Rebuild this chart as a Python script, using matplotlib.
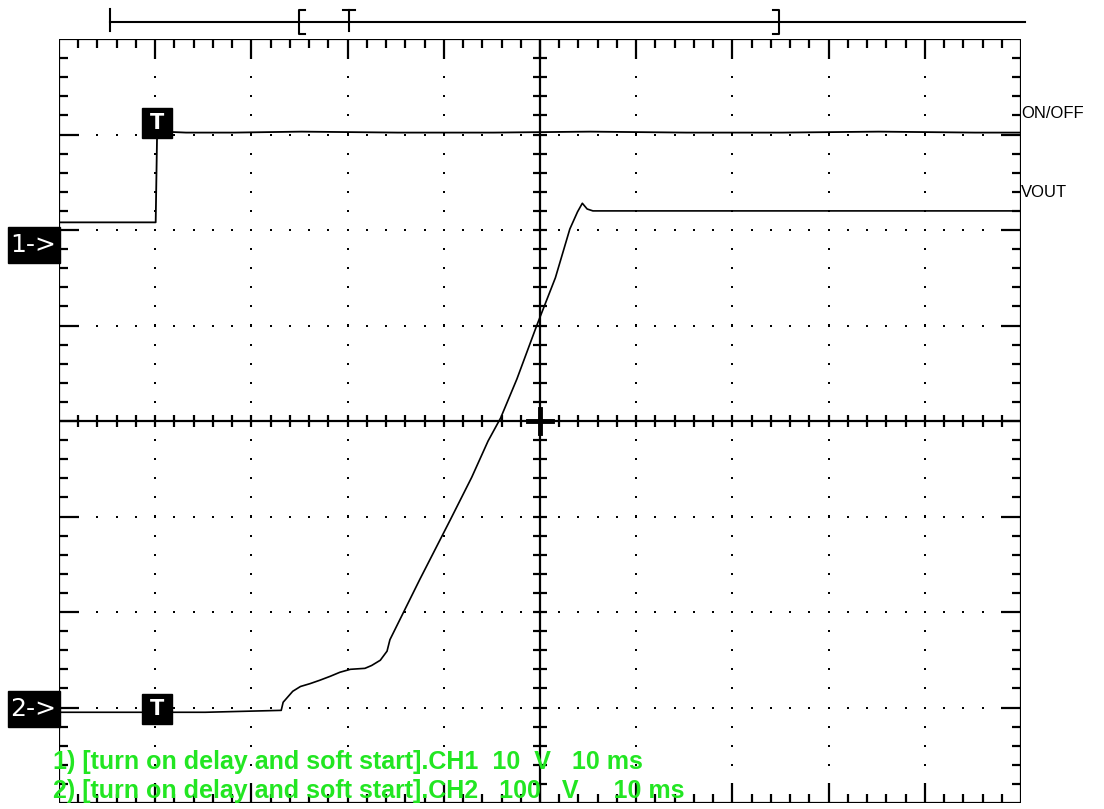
import numpy as np
import matplotlib.pyplot as plt
from matplotlib.patches import Rectangle
from matplotlib.collections import LineCollection

# scope settings: 10 ms/div, CH1 10 V/div, CH2 100 V/div, t = 0 at trigger
t_left = -10.2
ms_per_div = 10.0
ch1_scale = 10.0
ch2_scale = 100.0
ch1_offset = 2.0     # divisions above centre
ch2_offset = -3.05

# CH1: ON/OFF signal (V)
ch1_t = [-10.2, -8.5, -5.0, -2.0, -0.15, 0.0, 0.6, 3.0, 8.0, 15.0, 25.0, 35.0,
         45.0, 55.0, 65.0, 75.0, 85.0, 89.8]
ch1_v = [0.8, 0.8, 0.8, 0.8, 0.8, 10.3, 10.3, 10.2, 10.2, 10.3, 10.2, 10.2,
         10.3, 10.2, 10.2, 10.3, 10.2, 10.2]

# CH2: VOUT (V)
ch2_t = [-10.2, -2.0, 5.0, 12.9, 13.1, 14.1, 14.9, 15.9, 16.9, 18.0, 19.0, 20.1,
         21.6, 22.3, 23.2, 23.9, 24.2, 27.3, 30.5, 32.7, 34.4, 35.7, 37.4, 39.5,
         41.4, 42.9, 43.7, 44.2, 44.7, 45.3, 50.0, 60.0, 70.0, 80.0, 89.8]
ch2_v = [0, 0, 0, 2, 10.5, 22, 27, 30, 33.5, 37.7, 41.9, 45,
         46, 49, 54.5, 64, 76, 139, 202, 246, 284, 308, 349, 406,
         455, 506, 524, 533, 527, 525, 525, 525, 525, 525, 525]

ch_text = ["1) [turn on delay and soft start].CH1  10  V   10 ms",
           "2) [turn on delay and soft start].CH2   100   V     10 ms"]
trace_names = ["ON/OFF", "VOUT"]

W, H = 1104, 809
fig = plt.figure(figsize=(W / 100, H / 100), dpi=100)
ax = fig.add_axes([59 / W, 6 / H, 962 / W, 764 / H])
ax.set_xlim(t_left, t_left + 10 * ms_per_div)
ax.set_ylim(-4, 4)
ax.axis('off')

px_x = 10 * ms_per_div / 962
px_y = 8 / 764

# graticule dots
xs_major = [t_left + k * ms_per_div for k in range(1, 10) if k != 5]
ys_minor = np.arange(-3.8, 3.81, 0.2)
for x in xs_major:
    ax.plot([x] * len(ys_minor), ys_minor, ls='none', marker='s', ms=1.7, color='black', mew=0)
xs_minor = t_left + np.arange(0.2, 9.81, 0.2) * ms_per_div
for y in [-3, -2, -1, 1, 2, 3]:
    ax.plot(xs_minor, [y] * len(xs_minor), ls='none', marker='s', ms=1.7, color='black', mew=0)

# border and centre lines with ticks
segs = []
x0, x1 = t_left, t_left + 10 * ms_per_div
segs += [[(x0, -4), (x1, -4)], [(x1, -4), (x1, 4)], [(x1, 4), (x0, 4)], [(x0, 4), (x0, -4)]]
segs += [[(x0, 0), (x1, 0)], [(t_left + 50, -4), (t_left + 50, 4)]]
for i in range(1, 50):
    x = t_left + i * ms_per_div / 5
    ln = 20 if i % 5 == 0 else 9
    segs.append([(x, 4), (x, 4 - ln * px_y)])
    segs.append([(x, -4), (x, -4 + ln * px_y)])
    segs.append([(x, -6 * px_y), (x, 6 * px_y)])
for i in range(1, 40):
    y = -4 + i * 0.2
    ln = 20 if i % 5 == 0 else 9
    segs.append([(x0, y), (x0 + ln * px_x, y)])
    segs.append([(x1, y), (x1 - ln * px_x, y)])
    segs.append([(t_left + 50 - 7 * px_x, y), (t_left + 50 + 7 * px_x, y)])
ax.add_collection(LineCollection(segs, colors='black', linewidths=1.6))
ax.plot([t_left + 50 - 12 * px_x, t_left + 50 + 12 * px_x], [0, 0], color='black', lw=3.5)
ax.plot([t_left + 50, t_left + 50], [-12 * px_y, 12 * px_y], color='black', lw=3.5)

# traces
ch1_y = np.array(ch1_v) / ch1_scale + ch1_offset
ch2_y = np.array(ch2_v) / ch2_scale + ch2_offset
ax.plot(ch1_t, ch1_y, color='black', lw=1.3)
ax.plot(ch2_t, ch2_y, color='black', lw=1.2)

# overlay in pixel coordinates for the scope annotations
ov = fig.add_axes([0, 0, 1, 1])
ov.set_xlim(0, W)
ov.set_ylim(H, 0)
ov.axis('off')


def to_px(x, y):
    d = ax.transData.transform((x, y))
    return d[0], H - d[1]


# memory bar on top
ov.plot([110, 1025], [22, 22], color='black', lw=1.5)
ov.plot([110, 110], [9, 31], color='black', lw=1.5)
ov.plot([305, 299, 299, 305], [10, 10, 34, 34], color='black', lw=1.5)
ov.plot([343, 355], [10, 10], color='black', lw=1.5)
ov.plot([349, 349], [10, 31], color='black', lw=1.5)
ov.plot([773, 779, 779, 773], [10, 10, 34, 34], color='black', lw=1.5)

# channel markers
for lbl, yb in [("1->", 227), ("2->", 691)]:
    ov.add_patch(Rectangle((8, yb), 52, 36, color='black'))
    ov.text(33, yb + 18, lbl, color='white', fontsize=18, ha='center', va='center',
            family='DejaVu Sans')

# trigger markers on the traces
for y_tr in [ch1_offset + 10.3 / ch1_scale, ch2_offset]:
    px, py = to_px(0, y_tr)
    ov.add_patch(Rectangle((px - 15, py - 24 if y_tr > 0 else py - 18), 30, 30, color='black'))
    ov.text(px, (py - 9 if y_tr > 0 else py - 3), "T", color='white', fontsize=15,
            fontweight='bold', ha='center', va='center', family='DejaVu Sans')

# trace names at right
for name, y_v, sc, off in [(trace_names[0], 10.3, ch1_scale, ch1_offset),
                           (trace_names[1], 525, ch2_scale, ch2_offset)]:
    px, py = to_px(t_left + 100, y_v / sc + off)
    ov.text(1021, py - 18, name, fontsize=12, ha='left', va='center',
            family='Liberation Sans', color='black')

# channel info text
ov.text(53, 762, ch_text[0], color='#22E622', fontsize=18, fontweight='bold',
        ha='left', va='center', family='Liberation Sans')
ov.text(53, 791, ch_text[1], color='#22E622', fontsize=18, fontweight='bold',
        ha='left', va='center', family='Liberation Sans')

fig.savefig('out.png', dpi=100)
